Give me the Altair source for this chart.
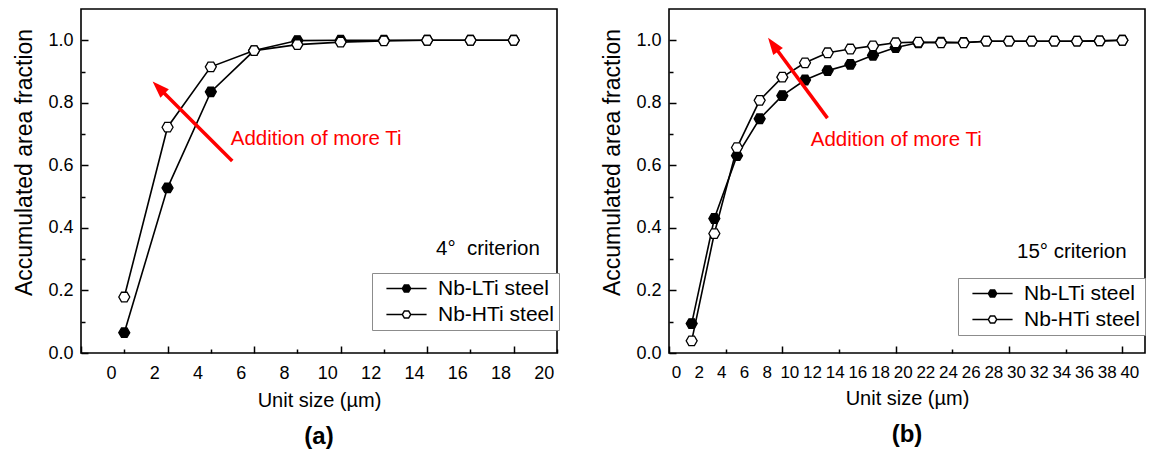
import altair as alt
import pandas as pd

FONT = "Liberation Sans"

series_names = ["Nb-LTi steel", "Nb-HTi steel"]

# ---- panel (a): 4° criterion ----
a_x = [2, 4, 6, 8, 10, 12, 14, 16, 18, 20]
a_lti = [0.065, 0.528, 0.835, 0.967, 0.999, 1.0, 1.0, 1.0, 1.0, 1.0]
a_hti = [0.179, 0.722, 0.915, 0.967, 0.986, 0.994, 0.998, 1.0, 1.0, 1.0]
a_tick_labels = [0, 2, 4, 6, 8, 10, 12, 14, 16, 18, 20]

# ---- panel (b): 15° criterion ----
b_x = [2, 4, 6, 8, 10, 12, 14, 16, 18, 20, 22, 24, 26, 28, 30, 32, 34, 36, 38, 40]
b_lti = [0.094, 0.430, 0.631, 0.749, 0.823, 0.873, 0.903, 0.923, 0.952, 0.977,
         0.992, 0.994, 0.993, 0.997, 0.997, 0.997, 0.997, 0.997, 0.998, 1.0]
b_hti = [0.039, 0.382, 0.657, 0.808, 0.882, 0.928, 0.960, 0.972, 0.982, 0.992,
         0.994, 0.992, 0.992, 0.997, 0.997, 0.997, 0.997, 0.997, 0.998, 1.0]
b_tick_labels = [0, 2, 4, 6, 8, 10, 12, 14, 16, 18, 20, 22, 24, 26, 28, 30, 32, 34, 36, 38, 40]

y_labels = [0.0, 0.2, 0.4, 0.6, 0.8, 1.0]
y_ticks = [0.0, 0.1, 0.2, 0.3, 0.4, 0.5, 0.6, 0.7, 0.8, 0.9, 1.0]

W = 476
H = 344

HEX = "M-1,0L-0.5,-0.866L0.5,-0.866L1,0L0.5,0.866L-0.5,0.866Z"
LEG = "M-4.8,0L-1,0M1,0L4.8,0M-1,0L-0.5,-0.866L0.5,-0.866L1,0L0.5,0.866L-0.5,0.866Z"
ARROW = "M0,0L0.7,2L-0.7,2Z"


def panel(xs, lti, hti, x_max, x_tick_vals, major_mod, label_vals, label_dx, xlabel_size,
          arrow, arrow_angle, note_xy, crit_text, crit_xy, legend_xy, letter):
    df = pd.DataFrame({
        "x": xs + xs,
        "y": lti + hti,
        "series": [series_names[0]] * len(xs) + [series_names[1]] * len(xs),
    })
    xscale = alt.Scale(domain=[0, x_max], nice=False, zero=False)
    yscale = alt.Scale(domain=[0, 1.1], nice=False, zero=False)

    base = alt.Chart(df)
    lines = base.mark_line(color="black", strokeWidth=1.6).encode(
        x=alt.X("x:Q", scale=xscale, axis=alt.Axis(
            orient="bottom", values=label_vals, labelOffset=label_dx, ticks=False, tickSize=0,
            domain=False, grid=False, labelFont=FONT, labelFontSize=xlabel_size,
            labelColor="black", labelPadding=11, labelOverlap=False, labelFlush=False,
            format="d", title="Unit size (µm)", titleFont=FONT, titleFontSize=20,
            titleFontWeight="normal", titleColor="black", titlePadding=8)),
        y=alt.Y("y:Q", scale=yscale, axis=alt.Axis(
            orient="left", values=y_labels, format=".1f", ticks=False, tickSize=0,
            domain=False, grid=False, labelFont=FONT, labelFontSize=18, labelColor="black",
            labelPadding=8, labelOverlap=False, labelFlush=False,
            title="Accumulated area fraction", titleFont=FONT, titleFontSize=23,
            titleFontWeight="normal", titleColor="black", titlePadding=11, titleY=153)),
        detail="series:N",
    )
    points = base.mark_point(shape=HEX, size=121, filled=True, stroke="black",
                             strokeWidth=1.3, opacity=1).encode(
        x=alt.X("x:Q", scale=xscale, axis=alt.Axis(
            orient="top", offset=-H, values=x_tick_vals, labels=False, domain=False,
            grid=False, ticks=True, tickColor="black", tickWidth=1.5,
            tickSize={"condition": {"test": f"datum.value % {major_mod} === 0", "value": 7},
                      "value": 4},
            title=None)),
        y=alt.Y("y:Q", scale=yscale, axis=alt.Axis(
            orient="right", offset=-W, values=y_ticks, labels=False, domain=False,
            grid=False, ticks=True, tickColor="black", tickWidth=1.5,
            tickSize={"condition": {"test": "round(datum.value * 10) % 2 === 0", "value": 7},
                      "value": 4},
            title=None)),
        fill=alt.Fill("series:N", sort=series_names,
                      scale=alt.Scale(domain=series_names, range=["black", "white"]),
                      legend=alt.Legend(
                          title=None, orient="none", legendX=legend_xy[0], legendY=legend_xy[1],
                          symbolType=LEG, symbolSize=70, symbolStrokeColor="black",
                          symbolStrokeWidth=1.5, labelFont=FONT, labelFontSize=21,
                          labelColor="black", padding=5, strokeColor="#8c8c8c",
                          fillColor="white", rowPadding=4, symbolOffset=19, labelOffset=21)),
    )

    arr = pd.DataFrame({"x": [arrow[0]], "y": [arrow[1]], "x2": [arrow[2]], "y2": [arrow[3]],
                        "tx": [arrow[4]], "ty": [arrow[5]]})
    rule = alt.Chart(arr).mark_rule(color="#ff0000", strokeWidth=3.5).encode(
        x=alt.X("x:Q", scale=xscale, axis=None),
        y=alt.Y("y:Q", scale=yscale, axis=None),
        x2="x2:Q", y2="y2:Q")
    head = alt.Chart(arr).mark_point(shape=ARROW, size=289, filled=True, color="#ff0000",
                                     opacity=1, angle=arrow_angle).encode(
        x=alt.X("tx:Q", scale=xscale, axis=None),
        y=alt.Y("ty:Q", scale=yscale, axis=None))

    note = alt.Chart(pd.DataFrame({"x": [note_xy[0]], "y": [note_xy[1]],
                                   "t": ["Addition of more Ti"]})).mark_text(
        align="left", baseline="middle", color="#ff0000", font=FONT, fontSize=20.5).encode(
        x=alt.X("x:Q", scale=xscale, axis=None),
        y=alt.Y("y:Q", scale=yscale, axis=None), text="t:N")
    crit = alt.Chart(pd.DataFrame({"x": [crit_xy[0]], "y": [crit_xy[1]],
                                   "t": [crit_text]})).mark_text(
        align="right", baseline="middle", color="black", font=FONT, fontSize=20.5).encode(
        x=alt.X("x:Q", scale=xscale, axis=None),
        y=alt.Y("y:Q", scale=yscale, axis=None), text="t:N")

    return alt.layer(lines, points, rule, head, note, crit).resolve_axis(
        x="independent", y="independent").properties(
        width=W, height=H,
        title=alt.TitleParams(letter, orient="bottom", font=FONT, fontSize=24,
                              fontWeight="bold", color="black", offset=15))


pa = panel(a_x, a_lti, a_hti, 22, [0, 2, 4, 6, 8, 10, 12, 14, 16, 18, 20, 22], 4,
           a_tick_labels, 30, 18,
           [6.99, 0.614, 3.77, 0.836, 3.31, 0.868], 315,
           [6.92, 0.684], "4°\u00a0 criterion", [21.21, 0.332], [291, 264], "(a)")
pb = panel(b_x, b_lti, b_hti, 42, [0, 5, 10, 15, 20, 25, 30, 35, 40], 10,
           b_tick_labels, 7, 17,
           [13.98, 0.751, 9.47, 0.972, 8.74, 1.008], 324,
           [12.51, 0.680], "15° criterion", [40.38, 0.324], [289, 269], "(b)")

chart = alt.hconcat(pa, pb, spacing=40).resolve_scale(
    fill="independent", x="independent", y="independent").resolve_legend(
    fill="independent").properties(
    padding={"left": 5, "top": 0, "right": 0, "bottom": 0}).configure(
    font=FONT).configure_view(stroke="black", strokeWidth=1.6)

chart.save("out.html", embed_options={"renderer": "svg", "actions": False})
